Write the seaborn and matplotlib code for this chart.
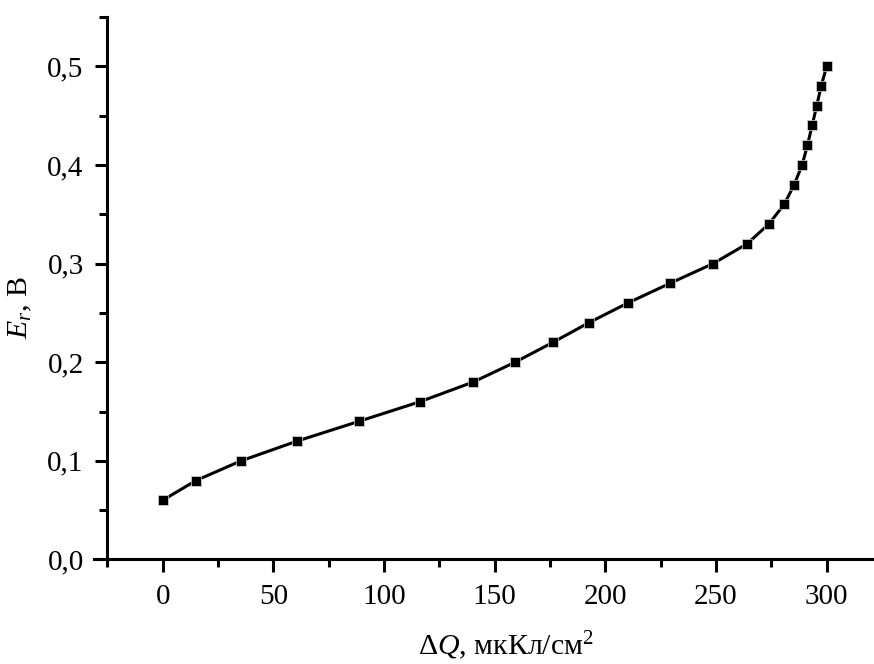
import matplotlib
matplotlib.use('Agg')
import matplotlib.pyplot as plt
from matplotlib.ticker import MultipleLocator, FuncFormatter
import pandas as pd
import seaborn as sns

# charge passed, uC/cm^2
dq = [0, 15, 35.4, 60.7, 88.6, 116.3, 140.4, 159.2, 176.2, 192.5, 210.1, 229.2,
      248.7, 264, 273.8, 280.8, 285.3, 288.9, 291.3, 293.4, 295.5, 297.5, 300]
# potential, V
er = [0.06, 0.08, 0.10, 0.12, 0.14, 0.16, 0.18, 0.20, 0.22, 0.24, 0.26, 0.28,
      0.30, 0.32, 0.34, 0.36, 0.38, 0.40, 0.42, 0.44, 0.46, 0.48, 0.50]

df = pd.DataFrame({'dq': dq, 'er': er})

sns.set_style('ticks')
plt.rcParams['font.family'] = ['Liberation Serif', 'DejaVu Serif']
plt.rcParams['mathtext.fontset'] = 'custom'
plt.rcParams['mathtext.rm'] = 'Liberation Serif'
plt.rcParams['mathtext.it'] = 'Liberation Serif:italic'
plt.rcParams['text.color'] = 'black'
plt.rcParams['axes.labelcolor'] = 'black'
plt.rcParams['xtick.color'] = 'black'
plt.rcParams['ytick.color'] = 'black'
plt.rcParams['axes.edgecolor'] = 'black'

fig = plt.figure(figsize=(8.74, 6.64), dpi=100)
ax = fig.add_axes([0.1076, 0.1574, 0.8902, 0.817])

sns.lineplot(data=df, x='dq', y='er', ax=ax, color='black', lw=2.2,
             marker='s', markersize=6.5, markeredgecolor='#dddddd',
             markeredgewidth=0.5, markerfacecolor='black')

ax.set_xlim(-31, 320.5)
ax.set_ylim(0, 0.55)
ax.spines['left'].set_position(('data', -25))
ax.spines['top'].set_visible(False)
ax.spines['right'].set_visible(False)
for s in ['left', 'bottom']:
    ax.spines[s].set_linewidth(2.2)

ax.xaxis.set_major_locator(MultipleLocator(50))
ax.xaxis.set_minor_locator(MultipleLocator(25))
ax.yaxis.set_major_locator(MultipleLocator(0.1))
ax.yaxis.set_minor_locator(MultipleLocator(0.05))
ax.yaxis.set_major_formatter(FuncFormatter(lambda v, p: f'{v:.1f}'.replace('.', ',')))
ax.tick_params(which='major', length=9, width=2.2, labelsize=21, direction='out')
ax.tick_params(which='minor', length=5.5, width=2.2, direction='out')
ax.tick_params(axis='x', which='major', pad=8.5)
ax.tick_params(axis='y', which='major', pad=8)

ax.set_xlabel(r'$\Delta\mathit{Q}$, мкКл/см$^2$', fontsize=21.5)
ax.set_ylabel(r'$E_r$, B', fontsize=21.5)
ax.xaxis.set_label_coords(0.529, -0.128)
ax.yaxis.set_label_coords(-0.077, 0.465)

fig.savefig('out.png', dpi=100)
plt.close(fig)
